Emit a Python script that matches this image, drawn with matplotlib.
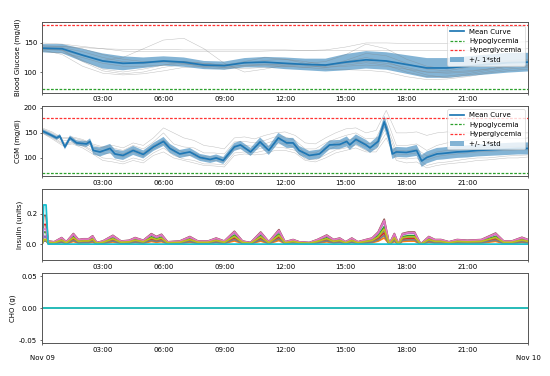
import numpy as np
import matplotlib
matplotlib.use("Agg")
import matplotlib.pyplot as plt
import matplotlib.dates as mdates
from matplotlib.ticker import NullFormatter, FormatStrFormatter
from datetime import datetime

# ---- data (hours since Nov 09 00:00) ----
bg_hours = list(range(25))
bg_mean = [141, 140, 129, 119, 115, 116, 119, 117, 112, 111, 116, 117, 115,
           113, 112, 117, 121, 119, 113, 107, 107, 110, 113, 116, 117]
bg_std = [7, 8, 11, 13, 12, 9, 8, 8, 7, 7, 8, 9, 10,
          10, 11, 14, 15, 15, 16, 17, 17, 17, 17, 17, 16]
bg_traces = [
    [150, 148, 144, 140, 136, 135, 135, 135, 135, 135, 135, 136, 137, 137, 138, 143, 150, 150, 149, 149, 149, 149, 150, 151, 152],
    [145, 144, 142, 140, 139, 139, 139, 138, 138, 138, 138, 138, 138, 137, 137, 137, 137, 137, 137, 137, 137, 137, 138, 139, 140],
    [140, 138, 128, 120, 125, 140, 155, 158, 140, 115, 100, 105, 112, 115, 118, 130, 148, 140, 122, 110, 105, 110, 115, 118, 120],
    [138, 130, 110, 98, 95, 97, 102, 108, 110, 108, 106, 108, 110, 108, 105, 104, 103, 100, 92, 87, 88, 92, 98, 102, 105],
    [140, 138, 120, 105, 100, 105, 112, 118, 115, 112, 115, 120, 122, 118, 112, 118, 125, 118, 105, 95, 90, 95, 100, 105, 108],
    [142, 142, 135, 125, 118, 115, 117, 118, 115, 112, 118, 125, 122, 115, 110, 120, 132, 128, 115, 105, 102, 108, 115, 120, 122],
    [135, 133, 125, 115, 110, 110, 112, 115, 110, 108, 112, 114, 112, 110, 108, 110, 112, 110, 105, 100, 100, 102, 105, 110, 112],
    [143, 144, 140, 130, 122, 118, 118, 115, 108, 105, 110, 112, 110, 108, 110, 115, 118, 115, 108, 100, 98, 100, 105, 110, 112],
    [139, 137, 118, 102, 97, 100, 108, 113, 112, 110, 111, 113, 114, 112, 108, 112, 116, 112, 100, 92, 93, 97, 103, 108, 110],
]

cgm_hours = [0.0, 0.38, 0.72, 0.88, 1.13, 1.38, 1.71, 2.2, 2.37, 2.53, 2.86, 3.36, 3.6, 4.0,
             4.5, 5.0, 5.5, 6.0, 6.32, 6.8, 7.3, 7.8, 8.3, 8.6, 8.95, 9.5, 9.8, 10.3,
             10.77, 11.2, 11.67, 12.08, 12.4, 12.7, 13.2, 13.7, 14.2, 14.7, 15.05, 15.2,
             15.5, 16.0, 16.2, 16.6, 16.9, 17.1, 17.3, 17.5, 18.0, 18.5, 18.75, 19.0,
             19.5, 19.8, 20.5, 21.0, 21.5, 22.0, 22.5, 23.0, 23.5, 24.0]
cgm_mean = [154, 147, 140, 143.6, 122, 140, 130, 128, 133, 115, 112, 119, 108, 105,
            115, 107, 122, 133, 119, 108, 112, 101, 97, 100, 95, 122, 126, 112,
            132, 115, 140, 130, 130, 115, 105, 108, 126, 127, 133, 126,
            137, 126, 120, 133, 172, 147, 108, 112, 111, 115, 94, 101,
            108, 109, 112, 113, 115, 116, 117, 118, 119, 119]
cgm_std = [4, 4, 4, 4, 5, 5, 5, 6, 6, 8, 9, 9, 9, 9,
           9, 8, 8, 9, 9, 8, 8, 7, 7, 7, 7, 8, 8, 8,
           9, 9, 10, 10, 10, 9, 9, 9, 9, 9, 10, 10,
           10, 10, 10, 11, 12, 12, 10, 10, 10, 11, 12, 12,
           12, 12, 12, 12, 12, 12, 12, 12, 12, 12]
cgm_trace_hours = [h / 2 for h in range(49)]
cgm_traces = [
    [160, 152, 140, 142, 137, 128, 122, 125, 120, 130, 125, 140, 160, 150, 140, 135, 125, 122, 118, 140,
     142, 138, 145, 150, 152, 145, 130, 128, 140, 150, 158, 160, 150, 155, 195, 150, 150, 152, 145, 150,
     152, 150, 150, 148, 148, 150, 152, 150, 150],
    [158, 150, 138, 140, 135, 125, 120, 120, 115, 125, 118, 132, 150, 128, 122, 120, 110, 110, 108, 132,
     133, 130, 135, 142, 142, 135, 118, 118, 130, 138, 145, 150, 138, 140, 180, 125, 125, 128, 115, 125,
     130, 132, 135, 138, 138, 140, 140, 138, 140],
    [150, 140, 128, 130, 124, 112, 100, 98, 92, 100, 95, 110, 120, 105, 98, 95, 88, 88, 86, 110,
     112, 110, 115, 122, 120, 115, 98, 96, 106, 116, 120, 126, 115, 118, 150, 100, 98, 100, 85, 90,
     92, 95, 98, 100, 100, 102, 104, 105, 106],
    [150, 138, 125, 128, 120, 108, 95, 92, 88, 95, 90, 105, 112, 100, 95, 90, 85, 84, 82, 105,
     108, 106, 108, 115, 115, 110, 95, 92, 100, 110, 115, 120, 112, 112, 140, 95, 90, 92, 80, 85,
     88, 90, 92, 95, 96, 98, 100, 100, 102],
    [155, 146, 134, 137, 131, 120, 115, 115, 108, 118, 110, 125, 136, 118, 112, 110, 102, 102, 100, 125,
     125, 123, 128, 135, 135, 128, 110, 110, 121, 130, 135, 140, 128, 131, 168, 115, 114, 118, 104, 112,
     115, 116, 118, 120, 121, 122, 122, 123, 124],
    [152, 143, 130, 132, 126, 115, 110, 108, 102, 112, 103, 118, 128, 112, 106, 104, 96, 95, 93, 118,
     118, 116, 121, 128, 128, 121, 104, 104, 114, 123, 128, 133, 122, 124, 160, 108, 107, 110, 96, 103,
     106, 108, 110, 112, 113, 114, 115, 116, 116],
]

# insulin: common profile (largest patient) + per-patient level, first-minute spike per patient
ins_hours = [0.0, 0.08, 0.2, 0.3, 0.6, 0.97, 1.2, 1.55, 1.8, 2.05, 2.3, 2.5, 2.7, 3.0, 3.5, 3.9,
             4.3, 4.6, 5.0, 5.4, 5.65, 5.9, 6.2, 6.8, 7.3, 7.7, 8.2, 8.6, 9.0, 9.5, 9.9, 10.3,
             10.8, 11.2, 11.7, 12.0, 12.4, 12.7, 13.2, 13.6, 14.06, 14.4, 14.7, 15.0, 15.3, 15.6,
             16.0, 16.3, 16.6, 16.9, 17.15, 17.4, 17.6, 17.8, 18.1, 18.4, 18.7, 19.1, 19.4, 19.7,
             20.1, 20.5, 21.0, 21.7, 22.4, 22.8, 23.2, 23.7, 24.0]
ins_profile = [0.0, 0.0, 0.0, 0.02, 0.015, 0.043, 0.015, 0.07, 0.03, 0.035, 0.035, 0.055, 0.01, 0.02, 0.058, 0.02,
               0.025, 0.043, 0.025, 0.069, 0.05, 0.065, 0.015, 0.02, 0.05, 0.02, 0.02, 0.04, 0.02, 0.085, 0.02, 0.01,
               0.08, 0.015, 0.096, 0.015, 0.03, 0.015, 0.01, 0.03, 0.06, 0.03, 0.04, 0.015, 0.04, 0.015,
               0.03, 0.04, 0.08, 0.165, 0.0, 0.07, 0.0, 0.07, 0.08, 0.08, 0.0, 0.05, 0.03, 0.03,
               0.015, 0.03, 0.025, 0.03, 0.073, 0.02, 0.02, 0.045, 0.03]
ins_level = [0.55, 0.25, 0.7, 0.45, 0.9, 1.0, 0.95, 0.35, 0.6, 0.0]
ins_spike = [0.05, 0.03, 0.08, 0.13, 0.05, 0.19, 0.10, 0.02, 0.03, 0.26]
cho_hours = [0, 24]
cho_values = [0, 0]

START = mdates.date2num(datetime(2018, 11, 9))
DPI = 50


def dates(hours):
    return START + np.asarray(hours, float) / 24.0


def ensemble(ax, mean_t, mean, std, trace_t, traces):
    mean = np.asarray(mean, float)
    std = np.asarray(std, float)
    band = ax.fill_between(dates(mean_t), mean + std, mean - std, alpha=0.55, lw=0,
                           label="+/- 1*std")
    for tr in traces:
        ax.plot(dates(trace_t), tr, "-", color="grey", alpha=0.5, lw=0.7)
    ln, = ax.plot(dates(mean_t), mean, color="C0", lw=2.5, label="Mean Curve")
    lo = ax.axhline(70, c="#2ca02c", ls=(0, (2.2, 1.2)), lw=1.8, label="Hypoglycemia")
    hi = ax.axhline(180, c="#ff3333", ls=(0, (2.2, 1.2)), lw=1.8, label="Hyperglycemia")
    ax.legend(handles=[ln, lo, hi, band], loc="upper right")


fig, axes = plt.subplots(4, 1, figsize=(550 / DPI, 376 / DPI), dpi=DPI)
fig.subplots_adjust(left=0.0764, right=0.96, top=0.9407, bottom=0.0869, hspace=0.187)
ax1, ax2, ax3, ax4 = axes

ensemble(ax1, bg_hours, bg_mean, bg_std, bg_hours, bg_traces)
ax1.set_ylim(64.5, 185.5)
ax1.set_yticks([100, 150])
ax1.set_ylabel("Blood Glucose (mg/dl)")

ensemble(ax2, cgm_hours, cgm_mean, cgm_std, cgm_trace_hours, cgm_traces)
ax2.set_ylim(63.5, 204)
ax2.set_ylabel("CGM (mg/dl)")

prof = np.asarray(ins_profile)
for lvl, spk in zip(ins_level, ins_spike):
    y = lvl * prof
    y[1] = spk
    y[2] = spk
    ax3.plot(dates(ins_hours), y, lw=2.5)
ax3.set_ylim(-0.104, 0.363)
ax3.set_yticks([0.0, 0.2])
ax3.set_ylabel("Insulin (units)")

for _ in ins_level:
    ax4.plot(dates(cho_hours), cho_values, lw=2.5)
ax4.set_ylim(-0.055, 0.055)
ax4.set_yticks([-0.05, 0.0, 0.05])
ax4.yaxis.set_major_formatter(FormatStrFormatter("%.2f"))
ax4.set_ylabel("CHO (g)")

for ax in axes:
    ax.xaxis_date()
    ax.set_xlim(START, START + 1)
    ax.xaxis.set_minor_locator(mdates.HourLocator(interval=3))
    ax.xaxis.set_minor_formatter(mdates.DateFormatter("%H:%M"))
    ax.xaxis.set_major_locator(mdates.DayLocator())
    ax.xaxis.set_major_formatter(NullFormatter())
    for s in ax.spines.values():
        s.set_color("#555555")
        s.set_linewidth(1.4)
ax4.xaxis.set_major_formatter(mdates.DateFormatter("\n%b %d"))

fig.savefig("out.png", dpi=DPI)
